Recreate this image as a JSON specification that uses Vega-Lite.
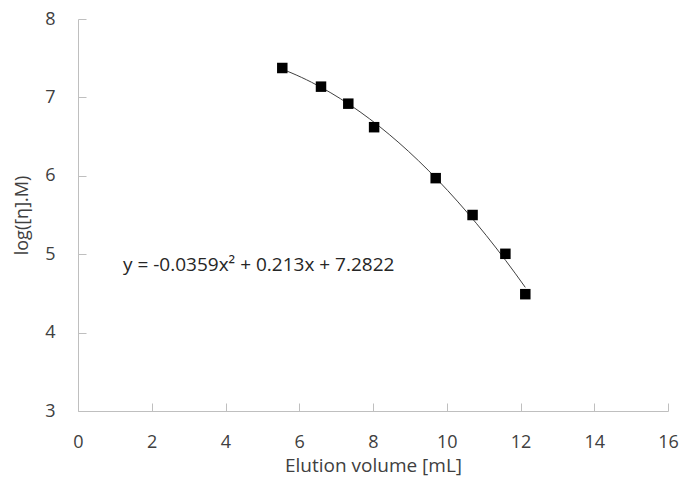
{
  "$schema": "https://vega.github.io/schema/vega-lite/v6.json",
  "width": 590,
  "height": 392,
  "autosize": "none",
  "padding": {"left": 78, "top": 19, "right": 17, "bottom": 71},
  "background": "white",
  "config": {
    "view": {"stroke": null},
    "font": "Open Sans",
    "axis": {
      "grid": false,
      "domainColor": "#bfbfbf",
      "tickColor": "#bfbfbf",
      "labelColor": "#404040",
      "titleColor": "#404040",
      "labelFont": "Open Sans",
      "titleFont": "Open Sans",
      "labelFontSize": 18,
      "titleFontSize": 18,
      "titleFontWeight": "normal",
      "labelFlush": false,
      "labelOverlap": false,
      "tickSize": -8,
      "format": "d"
    }
  },
  "datasets": {
    "points": [
      {"volume": 5.54, "logM": 7.375},
      {"volume": 6.59, "logM": 7.137},
      {"volume": 7.33, "logM": 6.92},
      {"volume": 8.03, "logM": 6.62},
      {"volume": 9.70, "logM": 5.97},
      {"volume": 10.70, "logM": 5.50},
      {"volume": 11.59, "logM": 5.005},
      {"volume": 12.13, "logM": 4.49}
    ],
    "label": [
      {"volume": 1.22, "logM": 4.86, "text": "y = -0.0359x² + 0.213x + 7.2822"}
    ]
  },
  "layer": [
    {
      "data": {"name": "points"},
      "transform": [
        {"regression": "logM", "on": "volume", "method": "poly", "order": 2}
      ],
      "mark": {"type": "line", "color": "#404040", "strokeWidth": 1},
      "encoding": {
        "x": {
          "field": "volume", "type": "quantitative",
          "scale": {"domain": [0, 16], "nice": false, "zero": false},
          "axis": {"values": [0, 2, 4, 6, 8, 10, 12, 14, 16], "title": "Elution volume [mL]", "titleFontSize": 19, "labelPadding": 30, "titlePadding": 5}
        },
        "y": {
          "field": "logM", "type": "quantitative",
          "scale": {"domain": [3, 8], "nice": false, "zero": false},
          "axis": {"values": [3, 4, 5, 6, 7, 8], "title": "log([η].M)", "labelPadding": 31, "titlePadding": 13}
        }
      }
    },
    {
      "data": {"name": "points"},
      "mark": {"type": "square", "color": "black", "filled": true, "opacity": 1, "size": 110},
      "encoding": {
        "x": {"field": "volume", "type": "quantitative"},
        "y": {"field": "logM", "type": "quantitative"}
      }
    },
    {
      "data": {"name": "label"},
      "mark": {"type": "text", "align": "left", "baseline": "middle", "fontSize": 19, "color": "#262626", "font": "Open Sans"},
      "encoding": {
        "x": {"field": "volume", "type": "quantitative"},
        "y": {"field": "logM", "type": "quantitative"},
        "text": {"field": "text"}
      }
    }
  ]
}
